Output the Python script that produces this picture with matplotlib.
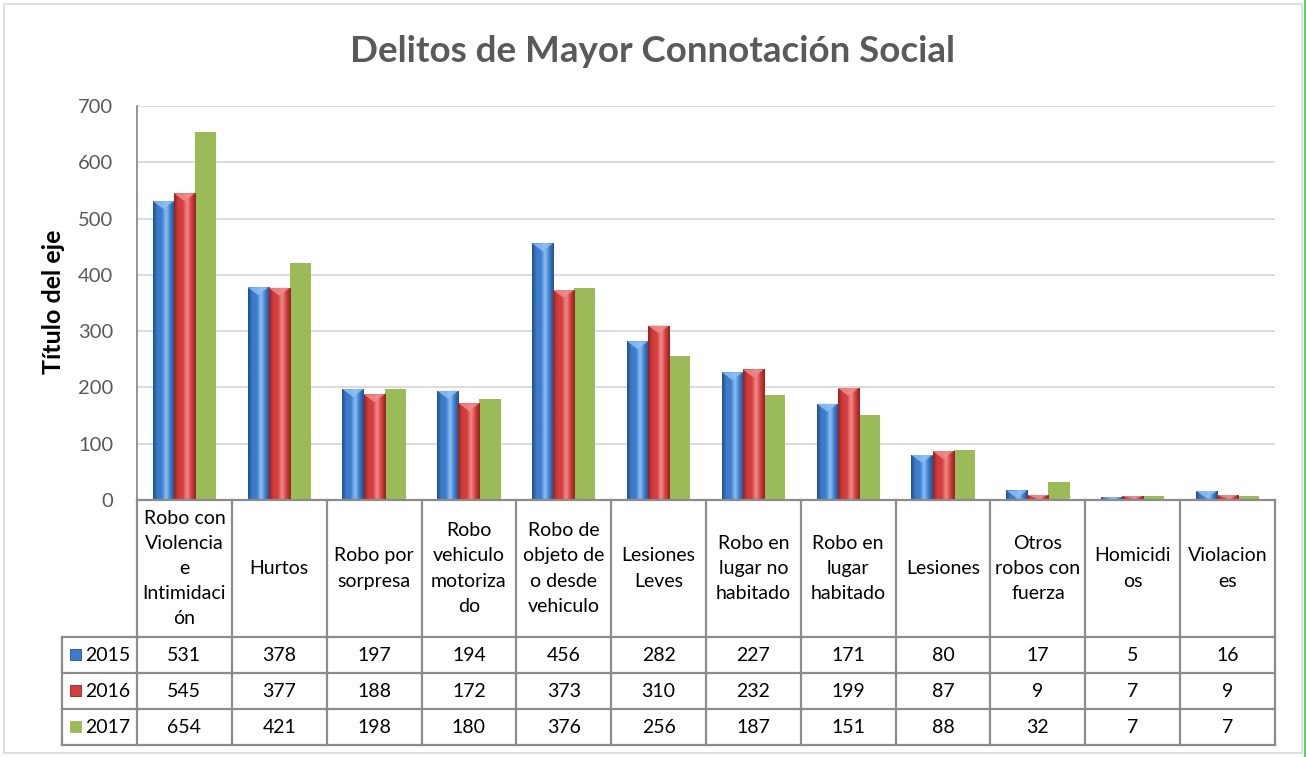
import matplotlib
matplotlib.use("Agg")
import matplotlib.pyplot as plt
import numpy as np
from matplotlib.patches import Rectangle, Polygon
from matplotlib.colors import LinearSegmentedColormap

plt.rcParams['font.family'] = ['Lato', 'DejaVu Sans']

categories = ["Robo con\nViolencia\ne\nIntimidaci\nón", "Hurtos", "Robo por\nsorpresa",
              "Robo\nvehiculo\nmotoriza\ndo", "Robo de\nobjeto de\no desde\nvehiculo",
              "Lesiones\nLeves", "Robo en\nlugar no\nhabitado", "Robo en\nlugar\nhabitado",
              "Lesiones", "Otros\nrobos con\nfuerza", "Homicidi\nos", "Violacion\nes"]
years = ["2015", "2016", "2017"]
v2015 = [531, 378, 197, 194, 456, 282, 227, 171, 80, 17, 5, 16]
v2016 = [545, 377, 188, 172, 373, 310, 232, 199, 87, 9, 7, 9]
v2017 = [654, 421, 198, 180, 376, 256, 187, 151, 88, 32, 7, 7]
series = [v2015, v2016, v2017]
yticks = [0, 100, 200, 300, 400, 500, 600, 700]

W, H = 1306, 757
fig = plt.figure(figsize=(W / 100, H / 100), dpi=100)
fig.patch.set_facecolor('white')

# outer frame
fig.add_artist(Rectangle((4 / W, 4 / H), (W - 8) / W, (H - 8) / H, transform=fig.transFigure,
                         fill=False, edgecolor='#D9D9D9', lw=1.2))
fig.add_artist(plt.Line2D([1304.5 / W, 1304.5 / W], [0, 1], transform=fig.transFigure,
                          color='#5BD65B', lw=1.5))

left, right, y0px, y700px = 137, 1275, 500, 106
ax = fig.add_axes([left / W, 1 - y0px / H, (right - left) / W, (y0px - y700px) / H])
n = len(categories)
x = np.arange(n)
ax.set_xlim(-0.5, n - 0.5)
ax.set_ylim(0, 700)
ax.set_yticks(yticks)
ax.set_yticklabels([str(t) for t in yticks], fontsize=14.5, color='#595959')
ax.tick_params(axis='y', length=0, pad=17)
ax.set_xticks([])
for s in ['top', 'right', 'bottom']:
    ax.spines[s].set_visible(False)
ax.spines['left'].set_color('#8C8C8C')
ax.spines['left'].set_linewidth(1.3)
ax.yaxis.grid(True, color='#D9D9D9', lw=1.3)
ax.set_axisbelow(True)
ax.set_ylabel("Título del eje", fontsize=18, fontweight='bold', color='black')
ax.yaxis.set_label_coords((65 - left) / (right - left), (y0px - 302) / (y0px - y700px))

colors = ['#3C7CCB', '#D43D3D', '#9BBB59']
dark = ['#23508A', '#8E2424', '#9BBB59']
light = ['#8DC0F5', '#F08C8C', '#9BBB59']
bw = 1 / 4.5
offs = [-bw, 0, bw]

for i, (vals, c) in enumerate(zip(series, colors)):
    bars = ax.bar(x + offs[i], vals, width=bw, color=c, edgecolor='none', zorder=2)
    if i < 2:
        cmap = LinearSegmentedColormap.from_list('g', [dark[i], c, c, light[i], c, dark[i]])
        grad = np.linspace(0, 1, 64).reshape(1, -1)
        for b in bars:
            bx, by, bwid, bh = b.get_x(), b.get_y(), b.get_width(), b.get_height()
            im = ax.imshow(grad, cmap=cmap, aspect='auto', extent=(bx, bx + bwid, by, by + bh),
                           zorder=3, interpolation='bicubic')
            im.set_clip_path(b)
            # bevel top
            bev = min(14, bh * 0.8)
            tri = Polygon([[bx, by + bh], [bx + bwid, by + bh], [bx + bwid * 0.5, by + bh - bev]],
                          closed=True, facecolor=light[i], edgecolor='none', alpha=0.85, zorder=4)
            ax.add_patch(tri)

ax.set_xlim(-0.5, n - 0.5)
ax.set_ylim(0, 700)

fig.suptitle("Delitos de Mayor Connotación Social", x=653 / W, y=1 - 52 / H, va='center',
             fontsize=26.5, fontweight='bold', color='#595959')

# data table
tax = fig.add_axes([left / W, 1 - 745 / H, (right - left) / W, (745 - 500) / H])
tax.set_xlim(-0.5, n - 0.5)
tax.set_ylim(745, 500)
tax.axis('off')
lc = '#8C8C8C'
lw = 1.6
cw = (right - left) / n
leg_left = -0.5 - (137 - 62) / cw
row_y = [500, 637, 673, 709, 745]
for k in range(n + 1):
    tax.plot([k - 0.5, k - 0.5], [500, 745], color=lc, lw=lw, clip_on=False, solid_capstyle='projecting')
tax.plot([leg_left, leg_left], [637, 745], color=lc, lw=lw, clip_on=False)
for yy in row_y[1:]:
    tax.plot([leg_left, n - 0.5], [yy, yy], color=lc, lw=lw, clip_on=False)
tax.plot([-0.5, n - 0.5], [500, 500], color=lc, lw=lw, clip_on=False)

for k, cat in enumerate(categories):
    tax.text(k, 568.5, cat, ha='center', va='center', fontsize=14, color='black',
             linespacing=1.58, clip_on=False)
for r, vals in enumerate(series):
    yc = (row_y[r + 1] + row_y[r + 2]) / 2
    for k, v in enumerate(vals):
        tax.text(k, yc + 1, str(v), ha='center', va='center', fontsize=14, color='black')
    # legend key
    kx = leg_left + 8 / cw
    tax.add_patch(Rectangle((kx, yc - 5.5), 11 / cw, 11, facecolor=colors[r],
                            edgecolor=dark[r] if r < 2 else colors[r], lw=0.6, clip_on=False))
    tax.text(kx + 15 / cw, yc + 1, years[r], ha='left', va='center', fontsize=14, color='black')

fig.savefig("out.png", dpi=100)
